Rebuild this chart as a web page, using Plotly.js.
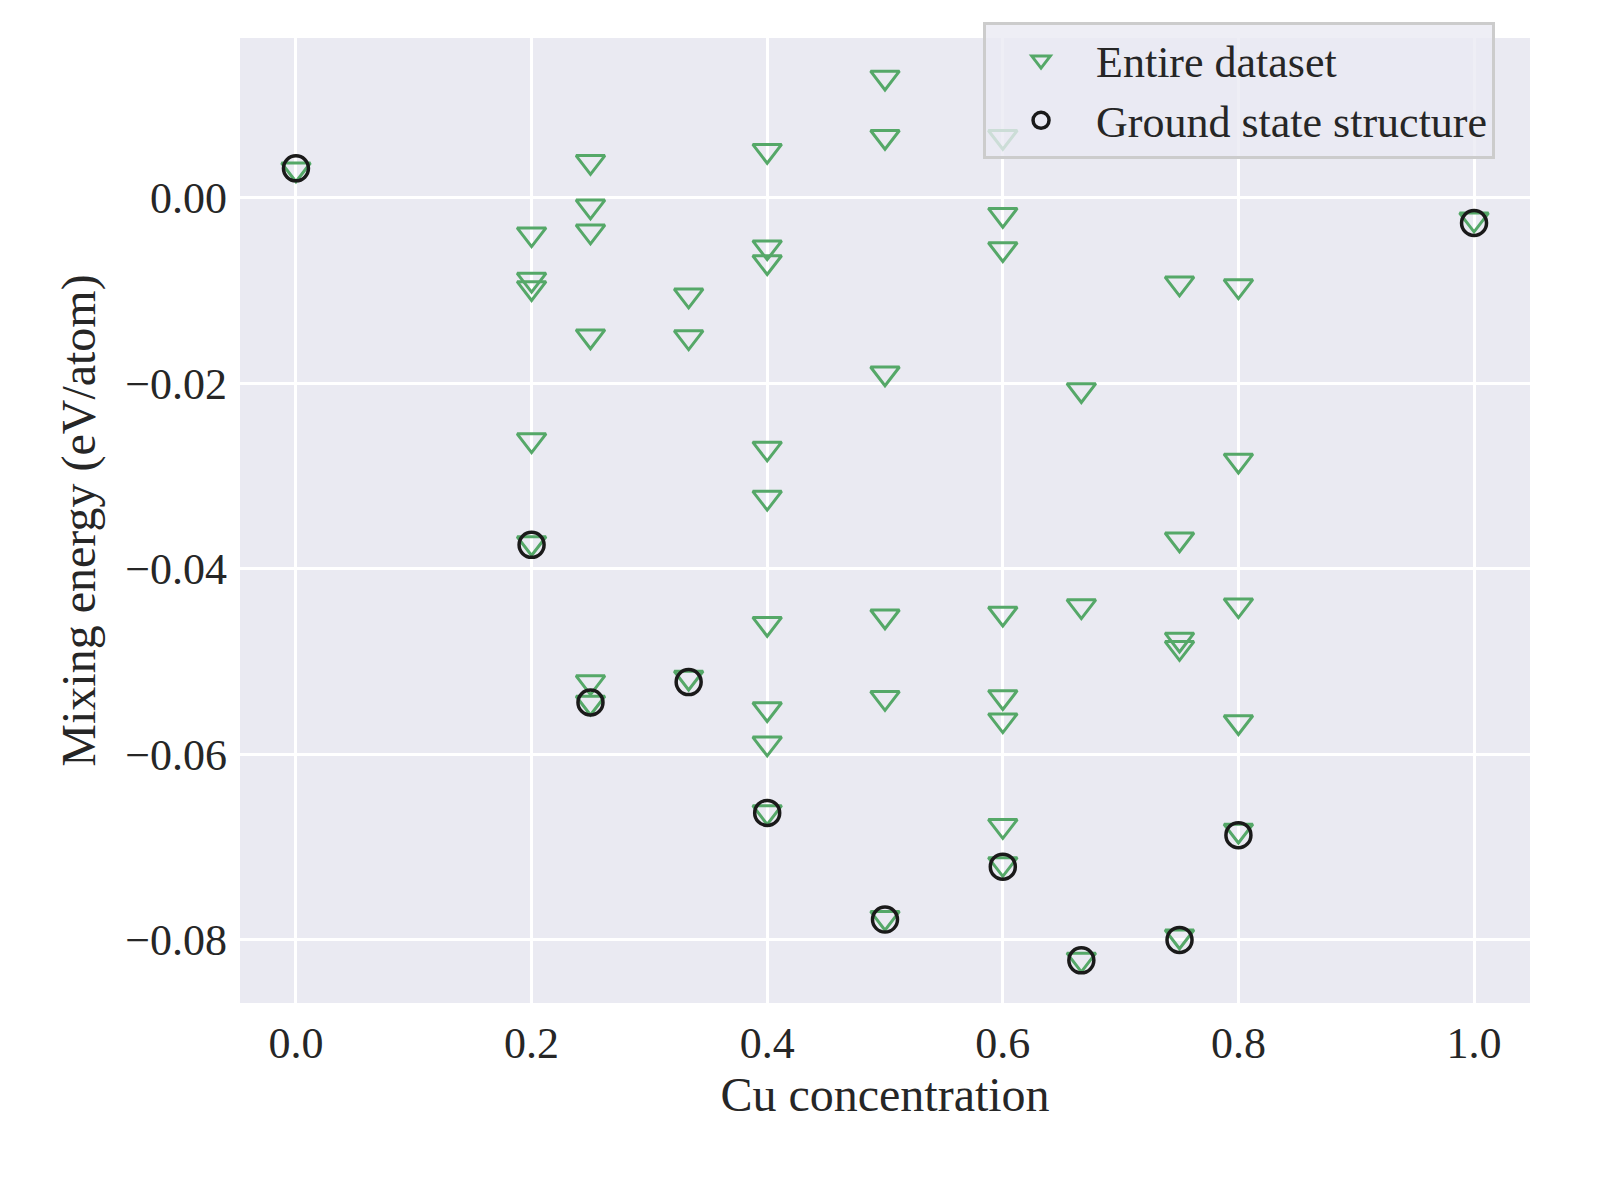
<!DOCTYPE html>
<html>
<head>
<script src="https://cdn.plot.ly/plotly-3.0.1.min.js"></script>
<style>body{margin:0;background:#fff}</style>
</head>
<body>
<div id="chart" style="width:1600px;height:1200px"></div>
<script>
var allX = [
  0,
  0.2, 0.2, 0.2, 0.2, 0.2,
  0.25, 0.25, 0.25, 0.25, 0.25, 0.25,
  1/3, 1/3, 1/3,
  0.4, 0.4, 0.4, 0.4, 0.4, 0.4, 0.4, 0.4, 0.4,
  0.5, 0.5, 0.5, 0.5, 0.5, 0.5,
  0.6, 0.6, 0.6, 0.6, 0.6, 0.6, 0.6, 0.6,
  2/3, 2/3, 2/3,
  0.75, 0.75, 0.75, 0.75, 0.75,
  0.8, 0.8, 0.8, 0.8, 0.8,
  1.0
];
var allY = [
  0.0031,
  -0.0039, -0.0088, -0.0097, -0.0261, -0.0372,
  0.0039, -0.0009, -0.0036, -0.0149, -0.0522, -0.0544,
  -0.0105, -0.0150, -0.0517,
  0.0051, -0.0053, -0.0069, -0.0270, -0.0323, -0.0459, -0.0551, -0.0588, -0.0662,
  0.0130, 0.0066, -0.0189, -0.0451, -0.0539, -0.0776,
  0.0066, -0.0018, -0.0055, -0.0448, -0.0538, -0.0563, -0.0677, -0.0718,
  -0.0207, -0.0440, -0.0821,
  -0.0092, -0.0368, -0.0476, -0.0485, -0.0796,
  -0.0095, -0.0283, -0.0439, -0.0565, -0.0682,
  -0.0023
];
var groundX = [0, 0.2, 0.25, 1/3, 0.4, 0.5, 0.6, 2/3, 0.75, 0.8, 1.0];
var groundY = [0.0032, -0.0374, -0.0544, -0.0522, -0.0663, -0.0778, -0.0721, -0.0822, -0.0800, -0.0687, -0.0027];

var font = 'Liberation Serif, Times New Roman, serif';

var data = [
  {
    x: allX, y: allY, type: 'scatter', mode: 'markers', name: 'Entire dataset',
    marker: {symbol: 'triangle-down-open', size: 25, color: '#55a868', line: {width: 3, color: '#55a868'}}
  },
  {
    x: groundX, y: groundY, type: 'scatter', mode: 'markers', name: 'Ground state structure',
    marker: {symbol: 'circle-open', size: 25, color: '#1a1a1a', line: {width: 3.5, color: '#1a1a1a'}}
  }
];

var layout = {
  width: 1600, height: 1200,
  paper_bgcolor: '#ffffff',
  plot_bgcolor: '#eaeaf2',
  font: {family: font, size: 44, color: '#262626'},
  margin: {l: 240, r: 70, t: 38, b: 197},
  showlegend: true,
  legend: {
    x: 0.576, y: 1.0166, xanchor: 'left', yanchor: 'top',
    bgcolor: 'rgba(234,234,242,0.8)', bordercolor: '#cccccc', borderwidth: 3,
    font: {family: font, size: 44, color: '#262626'},
    itemwidth: 100,
    tracegroupgap: 10
  },
  xaxis: {
    range: [-0.0475, 1.0475], tickvals: [0, 0.2, 0.4, 0.6, 0.8, 1.0], tickformat: '.1f',
    showgrid: true, gridcolor: '#ffffff', gridwidth: 3, zeroline: false, showline: false,
    ticks: '', ticklabelstandoff: 10,
    title: {text: 'Cu concentration', font: {family: font, size: 48, color: '#262626'}, standoff: 6}
  },
  yaxis: {
    range: [-0.0868, 0.01725], tickvals: [0, -0.02, -0.04, -0.06, -0.08], tickformat: '.2f',
    showgrid: true, gridcolor: '#ffffff', gridwidth: 3, zeroline: false, showline: false,
    ticks: '', ticklabelstandoff: 12,
    title: {text: 'Mixing energy (eV/atom)', font: {family: font, size: 48, color: '#262626'}, standoff: 14}
  }
};

Plotly.newPlot('chart', data, layout, {displayModeBar: false});
</script>
</body>
</html>
